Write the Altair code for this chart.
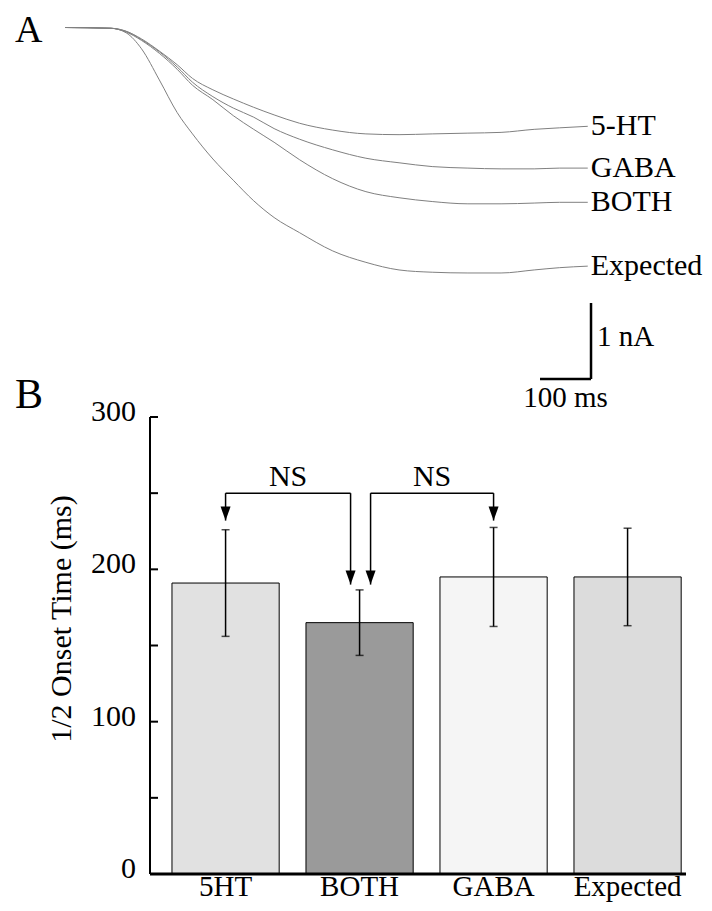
import altair as alt
import pandas as pd

FONT = "Liberation Serif"

# ---------------- Panel A: current traces ----------------
time_ms = [0, 90, 120, 150, 185, 220, 250, 290, 330, 370, 410, 460, 525, 590, 655, 720, 790, 855, 920, 970, 1025]
trace_5ht = [0, -0.01, -0.05, -0.15, -0.31, -0.49, -0.67, -0.82, -0.94, -1.05, -1.15, -1.26, -1.35, -1.40, -1.41, -1.40, -1.39, -1.38, -1.34, -1.32, -1.30]
trace_gaba = [0, -0.01, -0.05, -0.16, -0.32, -0.52, -0.72, -0.91, -1.06, -1.18, -1.33, -1.47, -1.61, -1.72, -1.78, -1.83, -1.85, -1.86, -1.86, -1.85, -1.85]
trace_both = [0, -0.01, -0.06, -0.17, -0.34, -0.55, -0.76, -0.95, -1.16, -1.34, -1.51, -1.74, -1.99, -2.16, -2.24, -2.29, -2.32, -2.32, -2.31, -2.30, -2.30]
trace_expected = [0, -0.01, -0.07, -0.28, -0.69, -1.12, -1.40, -1.73, -2.01, -2.28, -2.50, -2.70, -2.94, -3.09, -3.19, -3.22, -3.23, -3.23, -3.19, -3.16, -3.14]
trace_names = ["5-HT", "GABA", "BOTH", "Expected"]

scalebar_ms = 100
scalebar_nA = 1

# ---------------- Panel B: bar chart ----------------
categories = ["5HT", "BOTH", "GABA", "Expected"]
onset_mean = [191, 165, 195, 195]
onset_sem = [35, 21.5, 32.5, 32]
bar_fills = ["#e1e1e1", "#9a9a9a", "#f5f5f5", "#dcdcdc"]
y_labels = [0, 100, 200, 300]
y_ticks = [50, 100, 150, 200, 250, 300]
y_title = "1/2 Onset Time (ms)"
bracket_level = 250
ns_text = ["NS", "NS"]
arrow_cats = ["5HT", "BOTH", "BOTH", "GABA"]
arrow_tips = [232, 190, 190, 232]

# ---------------- data frames ----------------
rows = []
for name, vals in zip(trace_names, [trace_5ht, trace_gaba, trace_both, trace_expected]):
    for t, v in zip(time_ms, vals):
        rows.append({"series": name, "t": t, "I": v})
traces_df = pd.DataFrame(rows)
labels_df = traces_df.groupby("series", as_index=False).last()

sb_t = 1031.4
sb_I = -4.625
sbar_df = pd.DataFrame({"t": [sb_t], "t2": [sb_t - scalebar_ms], "I": [sb_I], "I2": [sb_I + scalebar_nA],
                        "Imid": [sb_I + scalebar_nA / 2 + 0.05], "tmid": [sb_t - scalebar_ms / 2]})

bars_df = pd.DataFrame({"cat": categories, "mean": onset_mean, "sem": onset_sem})
bars_df["lo"] = bars_df["mean"] - bars_df["sem"]
bars_df["hi"] = bars_df["mean"] + bars_df["sem"]
ticks_df = pd.DataFrame({"v": y_ticks})
ylab_df = pd.DataFrame({"v": y_labels})
yaxis_df = pd.DataFrame({"lo": [min(y_labels)], "hi": [max(y_labels)], "title": [y_title]})
arrows_df = pd.DataFrame({"cat": arrow_cats, "tip": arrow_tips, "top": [bracket_level] * 4})

# ---------------- scales (plot origin at page x=150, y=18) ----------------
xA = alt.Scale(domain=[0, 1025], range=[-85, 437.75], nice=False, zero=False)
yA = alt.Scale(domain=[-5, 0], range=[389.5, 9.5], nice=False, zero=False)

xB = alt.Scale(domain=categories, paddingInner=0.2, paddingOuter=0.1, align=0.82)
yB = alt.Scale(domain=[0, 300], range=[856, 399], nice=False, zero=True)

# ---------------- Panel A layers ----------------
traces = alt.Chart(traces_df).mark_line(color="#808080", strokeWidth=1, interpolate="monotone").encode(
    x=alt.X("t:Q", scale=xA, axis=None),
    y=alt.Y("I:Q", scale=yA, axis=None),
    detail="series:N",
)
trace_labels = alt.Chart(labels_df).mark_text(
    align="left", baseline="middle", dx=3, font=FONT, fontSize=30, color="black"
).encode(x="t:Q", y="I:Q", text="series:N")

sb_v = alt.Chart(sbar_df).mark_rule(color="black", strokeWidth=2.5).encode(
    x="t:Q", y="I:Q", y2="I2:Q")
sb_h = alt.Chart(sbar_df).mark_rule(color="black", strokeWidth=2.5).encode(
    x="t2:Q", x2="t:Q", y="I:Q")
sb_txt1 = alt.Chart(sbar_df).mark_text(
    text="1 nA", align="left", baseline="middle", dx=6, font=FONT, fontSize=29, color="black"
).encode(x="t:Q", y="Imid:Q")
sb_txt2 = alt.Chart(sbar_df).mark_text(
    text="100 ms", align="center", baseline="middle", dy=19, font=FONT, fontSize=29, color="black"
).encode(x="tmid:Q", y="I:Q")

panelA = alt.layer(traces, trace_labels, sb_v, sb_h, sb_txt1, sb_txt2)

# ---------------- Panel B layers ----------------
bars = alt.Chart(bars_df).mark_bar(stroke="black", strokeWidth=1).encode(
    x=alt.X("cat:N", sort=categories, scale=xB, axis=None),
    y=alt.Y("mean:Q", scale=yB, axis=None),
    color=alt.Color("cat:N", scale=alt.Scale(domain=categories, range=bar_fills), legend=None),
)
err = alt.Chart(bars_df).mark_rule(color="black", strokeWidth=1.5).encode(
    x=alt.X("cat:N", sort=categories, axis=None),
    y=alt.Y("lo:Q", axis=None), y2="hi:Q")
cap_lo = alt.Chart(bars_df).mark_tick(color="black", thickness=1.5, size=8).encode(
    x=alt.X("cat:N", sort=categories, axis=None), y=alt.Y("lo:Q", axis=None))
cap_hi = alt.Chart(bars_df).mark_tick(color="black", thickness=1.5, size=8).encode(
    x=alt.X("cat:N", sort=categories, axis=None), y=alt.Y("hi:Q", axis=None))

# manual axes
yaxis_line = alt.Chart(yaxis_df).mark_rule(color="black", strokeWidth=2).encode(
    x=alt.value(0), y=alt.Y("lo:Q", axis=None), y2="hi:Q")
xaxis_line = alt.Chart(yaxis_df).mark_rule(color="black", strokeWidth=3).encode(
    x=alt.value(0), x2=alt.value(536), y=alt.Y("lo:Q", axis=None))
inticks = alt.Chart(ticks_df).mark_rule(color="black", strokeWidth=2).encode(
    y=alt.Y("v:Q", axis=None), x=alt.value(0), x2=alt.value(8))
ylabels = alt.Chart(ylab_df).mark_text(
    font=FONT, fontSize=30, color="black", align="right", baseline="middle", dy=-5).encode(
    y=alt.Y("v:Q", axis=None), x=alt.value(-14), text="v:Q")
xlabels = alt.Chart(bars_df).mark_text(
    font=FONT, fontSize=29, color="black", align="center", baseline="alphabetic").encode(
    x=alt.X("cat:N", sort=categories, axis=None), y=alt.value(878), text="cat:N")
ytitle = alt.Chart(yaxis_df).mark_text(
    font=FONT, fontSize=30, color="black", align="center", baseline="middle", angle=270).encode(
    x=alt.value(-88), y=alt.value(601), text="title:N")

arrow_shape = "M-1,-2.8L1,-2.8L0,0Z"
leg_layers = []
for idx, off in [(0, 0), (1, -9), (2, 11), (3, 0)]:
    sub = arrows_df.iloc[[idx]]
    leg_layers.append(alt.Chart(sub).mark_rule(color="black", strokeWidth=1.5, xOffset=off).encode(
        x=alt.X("cat:N", axis=None), y=alt.Y("top:Q", axis=None), y2="tip:Q"))
    leg_layers.append(alt.Chart(sub).mark_point(shape=arrow_shape, size=100, filled=True, color="black",
                                               opacity=1, strokeWidth=0, xOffset=off).encode(
        x=alt.X("cat:N", axis=None), y=alt.Y("tip:Q", axis=None)))

br1 = alt.Chart(pd.DataFrame({"cat": [categories[0]], "cat2": [categories[1]], "top": [bracket_level]})).mark_rule(
    color="black", strokeWidth=1.5, x2Offset=-9).encode(
    x=alt.X("cat:N", axis=None), x2="cat2:N", y=alt.Y("top:Q", axis=None))
br2 = alt.Chart(pd.DataFrame({"cat": [categories[1]], "cat2": [categories[2]], "top": [bracket_level]})).mark_rule(
    color="black", strokeWidth=1.5, xOffset=11).encode(
    x=alt.X("cat:N", axis=None), x2="cat2:N", y=alt.Y("top:Q", axis=None))

ns1 = alt.Chart(pd.DataFrame({"cat": [categories[0]], "lab": [ns_text[0]], "top": [bracket_level]})).mark_text(
    font=FONT, fontSize=30, color="black", baseline="middle", align="center", dx=62.5, dy=-16).encode(
    x=alt.X("cat:N", axis=None), y=alt.Y("top:Q", axis=None), text="lab:N")
ns2 = alt.Chart(pd.DataFrame({"cat": [categories[1]], "lab": [ns_text[1]], "top": [bracket_level]})).mark_text(
    font=FONT, fontSize=30, color="black", baseline="middle", align="center", dx=72.5, dy=-16).encode(
    x=alt.X("cat:N", axis=None), y=alt.Y("top:Q", axis=None), text="lab:N")

letters_df = pd.DataFrame({"letter": ["A", "B"]})
letterA = alt.Chart(letters_df.iloc[[0]]).mark_text(
    font=FONT, fontSize=38, color="black", align="left", baseline="alphabetic").encode(
    x=alt.value(-135), y=alt.value(24), text="letter:N")
letterB = alt.Chart(letters_df.iloc[[1]]).mark_text(
    font=FONT, fontSize=42, color="black", align="left", baseline="alphabetic").encode(
    x=alt.value(-135), y=alt.value(390), text="letter:N")

panelB = alt.layer(bars, err, cap_lo, cap_hi, yaxis_line, xaxis_line, inticks, ylabels, xlabels, ytitle,
                   br1, br2, ns1, ns2, *leg_layers, letterA, letterB)

chart = alt.layer(panelA, panelB).resolve_scale(x="independent", y="independent").properties(
    width=536, height=856,
    padding={"left": 142, "top": 10, "right": 18, "bottom": 29},
    autosize=alt.AutoSizeParams(type="none"),
    background="white",
).configure_view(stroke=None)

chart.save("out.html", embed_options={"renderer": "svg", "actions": False})
